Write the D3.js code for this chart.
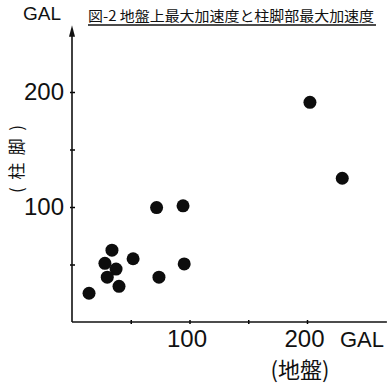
<!DOCTYPE html>
<html>
<head>
<meta charset="utf-8">
<script src="https://cdn.jsdelivr.net/npm/d3@7"></script>
<style>
  body { margin: 0; background: #fff; }
  text { fill: #111; }
</style>
</head>
<body>
<div id="chart"></div>
<script>
// Data: ground max accel (x) vs column base max accel (y), GAL
const groundAcc = [14.5, 28, 34, 37.5, 30, 40, 52, 72, 94.5, 74, 95.5, 202.5, 230];
const columnAcc = [25, 51, 62.5, 46, 39, 31, 55, 99.5, 101, 39, 50.5, 191, 125];

const xTicks = [50, 100, 150, 200];
const yTicks = [50, 100, 150, 200];
const labelledTicks = [100, 200];

const titleText = "図-2 地盤上最大加速度と柱脚部最大加速度";
const xLabel = "(地盤)";
const yLabel = "(柱脚)";
const unit = "GAL";

const W = 387, H = 387;

const svg = d3.select("#chart")
    .append("svg")
    .attr("width", W)
    .attr("height", H);

// Scales
const x = d3.scaleLinear([0, 200], [72, 307]);
const y = d3.scaleLinear([0, 200], [322, 92]);

const numFont = "'Liberation Sans', 'DejaVu Sans', sans-serif";
const cjkFont = "'Noto Sans CJK JP', sans-serif";

// X axis
const xAxisG = svg.append("g")
    .attr("transform", `translate(0, ${y(0)})`)
    .call(d3.axisBottom(x)
        .tickValues(xTicks)
        .tickSizeInner(2)
        .tickSizeOuter(0)
        .tickPadding(6)
        .tickFormat(d => labelledTicks.includes(d) ? d : ""));

xAxisG.select(".domain").remove();
xAxisG.append("line")
    .attr("x1", x(0)).attr("x2", x(268))
    .attr("stroke", "#111").attr("stroke-width", 1.6);
xAxisG.selectAll(".tick line").attr("y1", -2).attr("y2", 2).attr("stroke-width", 1.5);
xAxisG.selectAll(".tick text")
    .attr("font-family", numFont)
    .attr("font-size", 24)
    .attr("fill", "#111")
    .attr("dx", -3);

// Y axis
const yAxisG = svg.append("g")
    .attr("transform", `translate(${x(0)}, 0)`)
    .call(d3.axisLeft(y)
        .tickValues(yTicks)
        .tickSizeInner(2)
        .tickSizeOuter(0)
        .tickPadding(6)
        .tickFormat(d => labelledTicks.includes(d) ? d : ""));

yAxisG.select(".domain").remove();
yAxisG.append("line")
    .attr("y1", y(0)).attr("y2", y(252))
    .attr("stroke", "#111").attr("stroke-width", 1.6);
yAxisG.selectAll(".tick line").attr("x1", -2).attr("x2", 3).attr("stroke-width", 1.5);
yAxisG.selectAll(".tick text")
    .attr("font-family", numFont)
    .attr("font-size", 24)
    .attr("fill", "#111");

// arrow head on y axis
yAxisG.append("path")
    .attr("d", `M0,${y(258)} L-3,${y(248)} L3,${y(248)} Z`)
    .attr("fill", "#111");

// Units
svg.append("text")
    .attr("x", 23).attr("y", 20)
    .attr("font-family", numFont)
    .attr("font-size", 19)
    .text(unit);

svg.append("text")
    .attr("x", 340).attr("y", 347)
    .attr("font-family", numFont)
    .attr("font-size", 22)
    .text(unit);

// Axis titles
svg.append("text")
    .attr("x", 300).attr("y", 378)
    .attr("text-anchor", "middle")
    .attr("font-family", cjkFont)
    .attr("font-size", 22)
    .text(xLabel);

svg.append("text")
    .attr("transform", "translate(23, 159) rotate(-90)")
    .attr("text-anchor", "middle")
    .attr("font-family", cjkFont)
    .attr("font-size", 17)
    .attr("textLength", 68)
    .attr("lengthAdjust", "spacing")
    .text(yLabel);

// Title with underline
svg.append("text")
    .attr("x", 88).attr("y", 21)
    .attr("font-family", cjkFont)
    .attr("font-size", 14)
    .attr("textLength", 286)
    .attr("lengthAdjust", "spacingAndGlyphs")
    .text(titleText);

svg.append("line")
    .attr("x1", 88).attr("x2", 376)
    .attr("y1", 25).attr("y2", 25)
    .attr("stroke", "#111").attr("stroke-width", 1.3);

// Points
svg.append("g")
    .selectAll("circle")
    .data(groundAcc)
    .join("circle")
    .attr("cx", d => x(d))
    .attr("cy", (d, i) => y(columnAcc[i]))
    .attr("r", 6.5)
    .attr("fill", "#0d0d0d");
</script>
</body>
</html>
